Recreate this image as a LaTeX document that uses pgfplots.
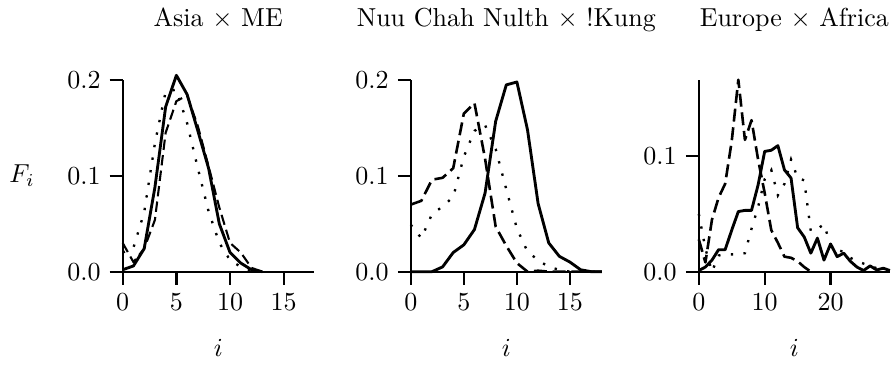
\documentclass[border=0pt]{standalone}
\usepackage{pgfplots}
\pgfplotsset{compat=1.18}
\usepackage{pgfplotstable}

% Panel 1: Asia x ME
\pgfplotstableread{
i solid dashed dotted
0 0.002 0.030 0.020
1 0.006 0.010 0.025
2 0.024 0.024 0.062
3 0.088 0.054 0.134
4 0.172 0.145 0.188
5 0.205 0.178 0.190
6 0.185 0.184 0.155
7 0.147 0.152 0.108
8 0.108 0.110 0.063
9 0.050 0.067 0.030
10 0.020 0.030 0.012
11 0.009 0.020 0.005
12 0.002 0.004 0.001
13 0.000 0.000 0.000
}\tabA

% Panel 2: Nuu Chah Nulth x !Kung
\pgfplotstableread{
i solid dashed dotted
0 0.000 0.070 0.049
1 0.000 0.074 0.035
2 0.000 0.096 0.060
3 0.005 0.098 0.068
4 0.020 0.108 0.078
5 0.028 0.165 0.120
6 0.044 0.176 0.147
7 0.082 0.118 0.153
8 0.157 0.047 0.128
9 0.195 0.027 0.086
10 0.198 0.009 0.045
11 0.148 0.000 0.021
12 0.071 0.001 0.012
13 0.030 0.000 0.005
14 0.016 0.000 0.002
15 0.010 0.000 0.000
16 0.002 0.000 0.000
17 0.000 0.000 0.000
18 0.000 0.000 0.000
}\tabB

% Panel 3: Europe x Africa
\pgfplotstableread{
i solid dotted
0 0.001 0.050
1 0.004 0.020
2 0.010 0.000
3 0.019 0.014
4 0.019 0.015
5 0.036 0.015
6 0.052 0.015
7 0.053 0.016
8 0.053 0.037
9 0.075 0.056
10 0.104 0.080
11 0.105 0.088
12 0.109 0.066
13 0.088 0.076
14 0.081 0.097
15 0.038 0.081
16 0.030 0.079
17 0.016 0.035
18 0.029 0.037
19 0.010 0.041
20 0.024 0.023
21 0.013 0.019
22 0.016 0.017
23 0.009 0.012
24 0.004 0.009
25 0.001 0.007
26 0.005 0.005
27 0.0015 0.003
28 0.003 0.001
29 0.001 0.000
}\tabC
\pgfplotstableread{
i dashed
0 0.028
1 0.008
2 0.045
3 0.064
4 0.076
5 0.113
6 0.166
7 0.114
8 0.131
9 0.097
10 0.068
11 0.036
12 0.025
13 0.013
14 0.012
15 0.009
16 0.004
17 0.000
}\tabCd

\pgfplotsset{
  panel/.style={
    scale only axis, width=73.5pt, height=73.7pt,
    axis x line*=bottom, axis y line*=left,
    axis line style={line width=0.9pt, -},
    every tick/.style={line width=0.9pt, black},
    major tick length=5pt, tick align=outside,
    xmin=0, ymin=0, clip=false,
    xlabel={$i$},
    every axis x label/.style={at={(axis description cs:0.5,0)}, yshift=-29.3pt, anchor=center},
    every axis title/.style={at={(axis description cs:0.5,1)}, anchor=base, yshift=20.8pt},
    yticklabel style={/pgf/number format/.cd, fixed, fixed zerofill, precision=1},
  },
  sol/.style={black, line width=1.1pt, line join=round},
  das/.style={black, line width=1.0pt, line join=round, dash pattern=on 5pt off 2.2pt},
  dasthin/.style={black, line width=0.8pt, line join=round, dash pattern=on 4pt off 2pt},
  dot/.style={black, line width=0.9pt, dash pattern=on 0.9pt off 4pt},
}

\begin{document}
\begin{tikzpicture}
\begin{axis}[panel, at={(0pt,0pt)}, anchor=south west,
  xmax=17.8, ymax=0.2, xtick={0,5,10,15}, ytick={0,0.1,0.2},
  title={Asia $\times$ ME},
  ylabel={$F_i$},
  every axis y label/.style={at={(axis description cs:0,0.5)}, xshift=-38.7pt, anchor=center}]
\addplot[sol] table[x=i, y=solid] {\tabA};
\addplot[dasthin] table[x=i, y=dashed] {\tabA};
\addplot[dot] table[x=i, y=dotted] {\tabA};
\end{axis}
\begin{axis}[panel, at={(110.8pt,0pt)}, anchor=south west,
  xmax=18, ymax=0.2, xtick={0,5,10,15}, ytick={0,0.1,0.2},
  title={Nuu Chah Nulth $\times$ !Kung}]
\addplot[sol] table[x=i, y=solid] {\tabB};
\addplot[das] table[x=i, y=dashed] {\tabB};
\addplot[dot] table[x=i, y=dotted] {\tabB};
\end{axis}
\begin{axis}[panel, at={(221.6pt,0pt)}, anchor=south west,
  xmax=29, ymax=0.1657, xtick={0,10,20}, ytick={0,0.1},
  title={Europe $\times$ Africa}]
\addplot[sol] table[x=i, y=solid] {\tabC};
\addplot[das] table[x=i, y=dashed] {\tabCd};
\addplot[dot] table[x=i, y=dotted] {\tabC};
\end{axis}
\pgfresetboundingbox
\path[use as bounding box] (-47.2pt,-35.9pt) rectangle (296.3pt,104.5pt);
\end{tikzpicture}
\end{document}
